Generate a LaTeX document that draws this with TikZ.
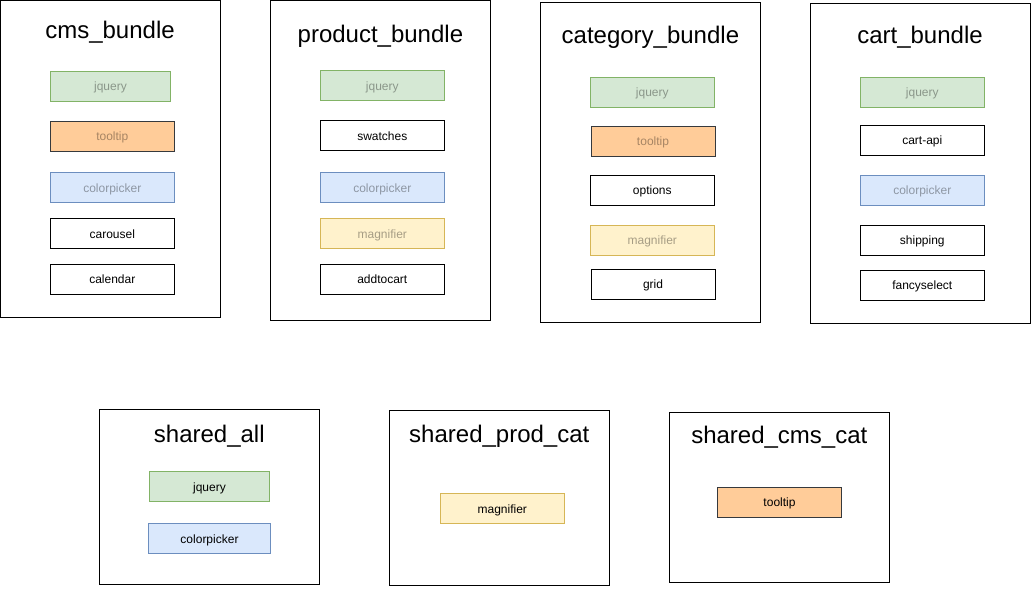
\documentclass[tikz,border=0pt]{standalone}
\usepackage{fontspec}
\setmainfont{Liberation Sans}
\usepackage{tikz}

\definecolor{jqfill}{HTML}{D5E8D4}
\definecolor{jqline}{HTML}{82B366}
\definecolor{tipfill}{HTML}{FFCC99}
\definecolor{tipline}{HTML}{36393D}
\definecolor{cpfill}{HTML}{DAE8FC}
\definecolor{cpline}{HTML}{6C8EBF}
\definecolor{magfill}{HTML}{FFF2CC}
\definecolor{magline}{HTML}{D6B656}

\tikzset{
  bundle/.style={draw, line width=1pt, minimum width=220pt, inner sep=0pt},
  title/.style={font=\fontsize{24}{28}\selectfont, text height=14pt, text depth=0pt},
  item/.style={draw, line width=1pt, minimum width=124pt, minimum height=30pt, inner sep=0pt, text height=9pt, text depth=0pt, font=\fontsize{12}{14}\selectfont},
  jq/.style={item, draw=jqline, fill=jqfill},
  tip/.style={item, draw=tipline, fill=tipfill},
  cpick/.style={item, draw=cpline, fill=cpfill},
  mag/.style={item, draw=magline, fill=magfill},
  faded/.style={text opacity=0.35},
}

\begin{document}
\begin{tikzpicture}[x=1pt, y=-1pt]
        \useasboundingbox (0,0) rectangle (1031,590);

        % cms_bundle
        \node[bundle, minimum height=317pt] (cms) at (110,158.5) {};
        \node[title] (cmsT) at (110,31.5) {cms\_bundle};
        \node[jq, faded, minimum width=120pt] (cmsJq) at (110.5,86.3) {jquery};
        \node[tip, faded] (cmsTip) at (112.3,136) {tooltip};
        \node[cpick, faded] (cmsCp) at (112.3,187.7) {colorpicker};
        \node[item] (cmsCar) at (112.3,233.7) {carousel};
        \node[item] (cmsCal) at (112.3,279) {calendar};

        % product_bundle
        \node[bundle, minimum height=319.5pt] (prod) at (380.4,160.3) {};
        \node[title] (prodT) at (380.4,35) {product\_bundle};
        \node[jq, faded] (prodJq) at (382.3,85.7) {jquery};
        \node[item] (prodSw) at (382.3,135.7) {swatches};
        \node[cpick, faded] (prodCp) at (382.3,187.7) {colorpicker};
        \node[mag, faded] (prodMag) at (382.3,233.7) {magnifier};
        \node[item] (prodAdd) at (382.3,279) {addtocart};

        % category_bundle
        \node[bundle, minimum height=320pt] (cat) at (650.4,162.7) {};
        \node[title] (catT) at (650.4,36) {category\_bundle};
        \node[jq, faded] (catJq) at (652.3,92) {jquery};
        \node[tip, faded] (catTip) at (653,141) {tooltip};
        \node[item] (catOpt) at (652.3,190) {options};
        \node[mag, faded] (catMag) at (652.3,240) {magnifier};
        \node[item] (catGrid) at (653,284) {grid};

        % cart_bundle
        \node[bundle, minimum height=320pt] (cart) at (920,163) {};
        \node[title] (cartT) at (920,36) {cart\_bundle};
        \node[jq, faded] (cartJq) at (922.3,92) {jquery};
        \node[item] (cartApi) at (922.3,140) {cart-api};
        \node[cpick, faded] (cartCp) at (922.3,190) {colorpicker};
        \node[item] (cartShip) at (922.3,240) {shipping};
        \node[item] (cartSel) at (922.3,285) {fancyselect};

        % shared_all
        \node[bundle, minimum height=175.4pt] (all) at (209.3,497) {};
        \node[title] (allT) at (209.3,435) {shared\_all};
        \node[jq, minimum width=120pt] (allJq) at (209.5,486.8) {jquery};
        \node[cpick, minimum width=122pt] (allCp) at (209.5,538.5) {colorpicker};

        % shared_prod_cat
        \node[bundle, minimum height=175.3pt] (pc) at (499.3,498.3) {};
        \node[title] (pcT) at (499.3,435) {shared\_prod\_cat};
        \node[mag] (pcMag) at (502.3,508.8) {magnifier};

        % shared_cms_cat
        \node[bundle, minimum height=170pt] (cc) at (779.3,497.3) {};
        \node[title] (ccT) at (779.3,436.7) {shared\_cms\_cat};
        \node[tip] (ccTip) at (779.5,502.3) {tooltip};
    \end{tikzpicture}
\end{document}
